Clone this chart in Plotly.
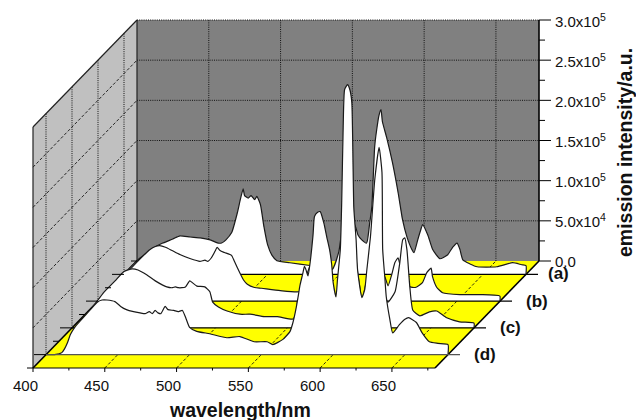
import plotly.graph_objects as go

# Wavelength (nm) and emission intensity (thousand counts) for each spectrum
WL_A = [400,404,409,414.6,421.6,427,434,439,446,453,460,465.5,468,471,475,479,481,483,484,486.5,488.5,491,492.5,495,497.5,500,503,506.5,515.5,529.5,540,545,549.6,553.8,557,561.5,563,565.6,569,571,572.6,574.6,576,577.6,579,580,583,587,591,594,597,600.5,602,604.6,606.7,608,611.6,615,620,625.5,629,632,634,636,641,646,659.6,670.7,677,680,680]
I_A = [0,8,17,25,34,39,44,48,46.5,45.5,43,39,39,43,52,77,93,106.5,98,95,98,93,97,87,59,37,24,17,14.5,11,8,6,28,74,74,58,49,43,39,62,84,159,180,198,205,190,170,139,101,68,47,31,27,43,55.5,62,49,31,19.5,24.5,34,39,31,18,13,9.5,9.5,14.5,12,11,0]

WL_B = [400,404,408,414,421,429,436,440,443,447,451.5,457,464,471,474.5,476.5,479,481.5,483,485,488,493,495,499,501.5,504,509,514,527,541,544,551,558,563,566,568,572,577,581,584,586.5,589,592,595,597,600,602,604.6,606.8,609,610,612.6,615,617.3,621,626,629,632,633,636,640,652,655.6,668,679,680,680]
I_B = [0,2,11,23,37,52,64,68,69,67,63,58,53,49.5,51,49.5,54,62,67,63,60.5,57,49.5,34.5,26,21,17,16,13,12,21,52,64,21,3,14,76,83,33,2,21,33,45,39,37,29.5,19,33,48,54,48,37,24,18,17,23,35.5,41,30.5,17,10.5,8,8,8,7,6,0]

WL_C = [400,404,408,412.5,417,422,430,436,442,446,452,458,466,470,472,474,476.5,479,482,484,487,492.5,496,498,502,508,517,524,534,543,554,556,557,561,566,572.6,578,582,584.5,586.5,592,596,599,602,604.5,607.5,609.5,611.6,614.4,616,617,620,625,628.3,630.4,631.8,633.3,635.3,637.4,642.3,649,654,661,670,680,680]
I_C = [0,1,7.5,21,32,44,58.5,70,73.5,72,66,58.5,51,50,51,50,50,51,58.5,56,52,51,45,32,26,21,17,17,14,14,11,19,32,53.5,78,97,72,35,29,35,122,110,60,29,47,97,134,159,141,72,47,32,45,81,110,112,97,51,22,15,20,21,12.5,7.5,6,0]

WL_D = [400,406,411,413,415,417,420,428,435.5,439,442.5,448,452,456,461,465.5,469,472,474,476,478,480,483,485,489,492,495,497.5,500,505,514,526,535,545,554,558,565,570,572,574,575.5,577,579,580,581,582.5,584,586,587,589,591,593.5,595.5,597.5,599,600,602,603,605,606,607,608,610,611.6,613,614.4,616,617,620,622,623.5,626,629,632,634,634.5,636,637,639.5,641.5,646,650,652.5,658,662,667,673,680,680]
I_D = [0,0,2.5,7.5,15,25,34,50,65,68,68,66,60,56,53.5,52,51,53.5,51,55,52,51,60,56,55,53.5,55,45,34,29,26,21,22.5,16,16,12.5,19,29,40,56,71,87,102,110,106,98,115,149,172,177,178,164,147,131,112,90,72,93,131,193,284,330,336,330,314,183,143,106,71,81,106,147,218,258,227,131,96,72,44,27,37,44,46,40,27,16,14,12.5,0]

SERIES = [("(a)", WL_A, I_A, 7/8), ("(b)", WL_B, I_B, 5/8), ("(c)", WL_C, I_C, 3/8), ("(d)", WL_D, I_D, 1/8)]

X_TICKS = [400, 450, 500, 550, 600, 650]
X_MINOR = [425, 475, 525, 575, 625, 675]
Y_TICKS = [0, 50, 100, 150, 200, 250, 300]
Y_MINOR = [25, 75, 125, 175, 225, 275]
Y_LABELS = ["0.0", "5.0x10<sup>4</sup>", "1.0x10<sup>5</sup>", "1.5x10<sup>5</sup>", "2.0x10<sup>5</sup>", "2.5x10<sup>5</sup>", "3.0x10<sup>5</sup>"]

WL0, WL1, I_MAX = 400, 680, 300
DX, DY = 72.44, 133.2          # oblique offset of the back plane, in axis units
PXX, PXY = 402 / 280, 241 / 300  # pixels per axis unit


def proj(wl, i, depth=0.0):
    return wl + DX * depth, i + DY * depth


fig = go.Figure()


def poly(points, fill):
    xs, ys = zip(*[proj(*p) for p in points])
    fig.add_trace(go.Scatter(x=xs, y=ys, mode="lines", fill="toself", fillcolor=fill,
                             line=dict(width=0), hoverinfo="skip", showlegend=False))


def lines(segments, color="#000", width=1.0, dash="solid"):
    xs, ys = [], []
    for a, b in segments:
        xa, ya = a
        xb, yb = b
        xs += [xa, xb, None]
        ys += [ya, yb, None]
    fig.add_trace(go.Scatter(x=xs, y=ys, mode="lines", line=dict(color=color, width=width, dash=dash),
                             hoverinfo="skip", showlegend=False))


# Walls and floor
poly([(WL0, 0, 0), (WL0, 0, 1), (WL0, I_MAX, 1), (WL0, I_MAX, 0)], "#c0c0c0")
poly([(WL0, 0, 1), (WL1, 0, 1), (WL1, I_MAX, 1), (WL0, I_MAX, 1)], "#808080")
poly([(WL0, 0, 0), (WL1, 0, 0), (WL1, 0, 1), (WL0, 0, 1)], "#ffff00")

# Grids
lines([(proj(w, 0, 1), proj(w, I_MAX, 1)) for w in X_TICKS[1:]] +
      [(proj(WL0, v, 1), proj(WL1, v, 1)) for v in Y_TICKS[1:]], "#111", 1, "1px,1.2px")
lines([(proj(WL0, 0, d), proj(WL0, I_MAX, d)) for _, _, _, d in SERIES], "#111", 1, "1px,1.2px")
lines([(proj(WL0, v, 0), proj(WL0, v, 1)) for v in Y_TICKS[1:-1]], "#111", 0.9, "3px,2px")
lines([(proj(w, 0, 0), proj(w, 0, 1)) for w in X_TICKS[1:]], "#111", 0.9, "3px,2px")

# Wall edges
lines([(proj(WL0, 0, 0), proj(WL0, I_MAX, 0)), (proj(WL0, I_MAX, 0), proj(WL0, I_MAX, 1)),
       (proj(WL0, 0, 1), proj(WL0, I_MAX, 1))], "#222", 1.2)
lines([(proj(WL0, 0, 0), proj(WL0, 0, 1)), (proj(WL1, 0, 0), proj(WL1, 0, 1))], "#000", 1.6)

# Spectra, back to front, each standing on its own baseline
for name, wl, inten, depth in SERIES:
    pts = [proj(w, v, depth) for w, v in zip(wl, inten)]
    fig.add_trace(go.Scatter(x=[p[0] for p in pts], y=[p[1] for p in pts], mode="lines", fill="toself",
                             fillcolor="#ffffff", line=dict(color="#1a1a1a", width=1.2, shape="spline", smoothing=0.5),
                             name=name, hoverinfo="skip", showlegend=False))
    xe, ye = proj(WL1, 0, depth)
    lines([(proj(WL0, 0, depth), (xe + 12 / PXX, ye))], "#555" if name == "(d)" else "#000", 1.2)

# Axes drawn on the box
lines([(proj(WL0, 0, 0), proj(WL1, 0, 0))], "#000", 1.2)
lines([(proj(w, 0, 0), (proj(w, 0, 0)[0], -4 / PXY)) for w in X_TICKS], "#000", 1)
lines([(proj(w, 0, 0), (proj(w, 0, 0)[0], -2.5 / PXY)) for w in X_MINOR], "#000", 1)
lines([(proj(WL1, 0, 1), proj(WL1, I_MAX, 1))], "#000", 1.6)
xr = proj(WL1, 0, 1)[0]
lines([((xr, proj(0, v, 1)[1]), (xr + 12 / PXX, proj(0, v, 1)[1])) for v in Y_TICKS], "#000", 1)
lines([((xr, proj(0, v, 1)[1]), (xr + 6 / PXX, proj(0, v, 1)[1])) for v in Y_MINOR], "#000", 1)
for k in range(9):
    x0, y0 = proj(WL0, 0, k / 8)
    lines([((x0, y0), (x0 - (12 if k % 2 else 6) / PXX, y0))], "#000", 1)

FONT = "Liberation Sans, Arial, sans-serif"
notes = []
for w in X_TICKS:
    notes.append(dict(x=w, y=-17.5 / PXY, xshift=-8, xanchor="center", text=str(w),
                      font=dict(size=15, family=FONT, color="#111")))
for v, t in zip(Y_TICKS, Y_LABELS):
    notes.append(dict(x=xr, y=proj(0, v, 1)[1], xshift=14, xanchor="left", text=t,
                      font=dict(size=15, family=FONT, color="#111")))
for (name, _, _, depth), shift in zip(SERIES, [20, 24, 24, 24]):
    xe, ye = proj(WL1, 0, depth)
    notes.append(dict(x=xe, y=ye, xshift=shift, yshift=1 if name == "(a)" else 0,
                      xanchor="left", text=f"<b>{name}</b>", font=dict(size=17, family=FONT, color="#111")))
notes.append(dict(x=240 / 636, y=1 - 410 / 420, xref="paper", yref="paper", xanchor="center",
                  text="<b>wavelength/nm</b>", font=dict(size=19.5, family=FONT, color="#111")))
notes.append(dict(x=625 / 636, y=1 - 153 / 420, xref="paper", yref="paper", xanchor="center",
                  text="<b>emission intensity/a.u.</b>", textangle=-90,
                  font=dict(size=19.5, family=FONT, color="#111")))
for n in notes:
    n["showarrow"] = False
    n.setdefault("yanchor", "middle")

fig.update_layout(
    width=636, height=420, autosize=False, margin=dict(l=0, r=0, t=0, b=0),
    paper_bgcolor="#ffffff", plot_bgcolor="#ffffff", showlegend=False, annotations=notes,
    xaxis=dict(visible=False, range=[400 - 33 / PXX, 400 + 603 / PXX], fixedrange=True),
    yaxis=dict(visible=False, range=[-52 / PXY, 368 / PXY], fixedrange=True),
)
fig.write_html("out.html", config={"displayModeBar": False},
               post_script="document.body.style.margin='0';document.body.style.overflow='hidden';")
